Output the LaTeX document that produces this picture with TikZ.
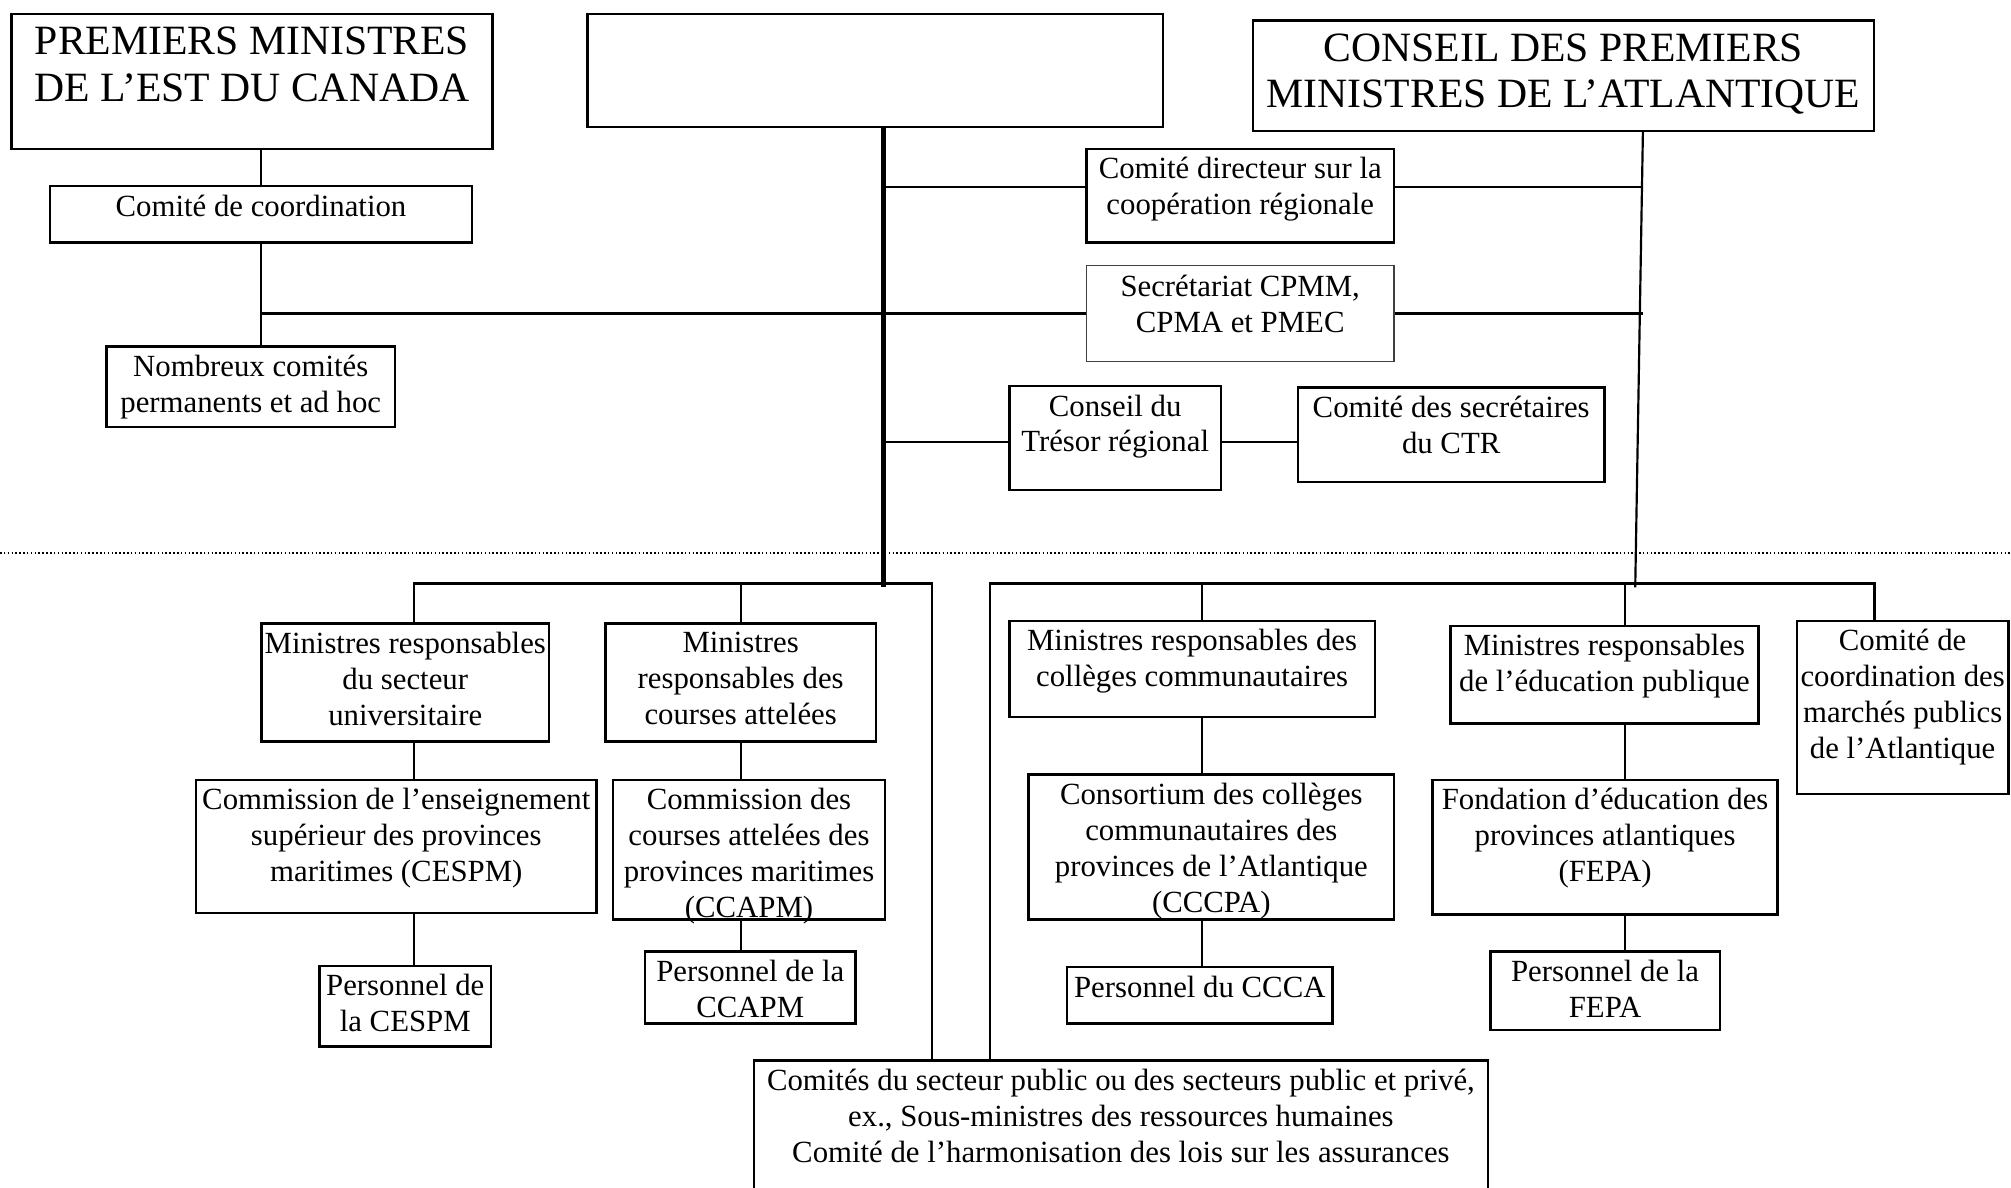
\documentclass[tikz,border=0pt]{standalone}
\usepackage{fontspec}
\setmainfont{Liberation Serif}
\usepackage{tikz}
\tikzstyle{box} = [rectangle, draw=black, line width=1.9pt, inner sep=0pt]
\tikzstyle{thinbox} = [box, draw=black!75, line width=1pt]
\tikzstyle{txt} = [anchor=north, align=center, inner sep=7.5pt, font=\fontsize{24}{28}\selectfont]
\tikzstyle{bigtxt} = [txt, inner sep=11pt, font=\fontsize{32.5}{36}\selectfont]
\tikzstyle{line} = [line width=1.7pt]
\tikzstyle{trunk} = [line width=3.8pt]

\begin{document}
\begin{tikzpicture}[x=1pt, y=-1pt]
\useasboundingbox (0,0) rectangle (1568,926);
\fill [white] (0,0) rectangle (1568,926);
\clip (0,0) rectangle (1568,926);

% Upper part
\node (pmest) [box, minimum width=375pt, minimum height=105pt, label={[bigtxt]north:{PREMIERS MINISTRES\\DE L’EST DU CANADA}}] at (196.5,63.5) {};
\node (blank) [box, minimum width=449pt, minimum height=88pt] at (682.5,55) {};
\node (cpma) [box, minimum width=484pt, minimum height=86pt, label={[bigtxt]north:{CONSEIL DES PREMIERS\\MINISTRES DE L’ATLANTIQUE}}] at (1219,59) {};
\node (coord) [box, minimum width=329pt, minimum height=44pt, label={[txt]north:{Comité de coordination}}] at (203.5,167) {};
\node (nomb) [box, minimum width=225pt, minimum height=63pt, label={[txt]north:{Nombreux comités\\permanents et ad hoc}}] at (195.5,301.5) {};
\node (cdir) [box, minimum width=240pt, minimum height=73pt, label={[txt]north:{Comité directeur sur la\\coopération régionale}}] at (967,152.5) {};
\node (secr) [thinbox, minimum width=240pt, minimum height=75pt, label={[txt]north:{Secrétariat CPMM,\\CPMA et PMEC}}] at (967,244.5) {};
\node (ctr) [box, minimum width=165pt, minimum height=81pt, label={[txt]north:{Conseil du\\Trésor régional}}] at (869.5,341.5) {};
\node (csec) [box, minimum width=239pt, minimum height=74pt, label={[txt]north:{Comité des secrétaires\\du CTR}}] at (1131.5,339) {};

% Lower part
\node (mrunv) [box, minimum width=224pt, minimum height=92pt, label={[txt]north:{Ministres responsables\\du secteur\\universitaire}}] at (316,532) {};
\node (mrcrs) [box, minimum width=211pt, minimum height=92pt, label={[txt]north:{Ministres\\responsables des\\courses attelées}}] at (577.5,532) {};
\node (cespm) [box, minimum width=312pt, minimum height=104pt, label={[txt]north:{Commission de l’enseignement\\supérieur des provinces\\maritimes (CESPM)}}] at (309,660) {};
\node (ccapm) [box, minimum width=212pt, minimum height=109pt, label={[txt]north:{Commission des\\courses attelées des\\provinces maritimes\\(CCAPM)}}] at (584,662.5) {};
\node (pcespm) [box, minimum width=134pt, minimum height=63pt, label={[txt]north:{Personnel de\\la CESPM}}] at (316,784.5) {};
\node (pccapm) [box, minimum width=164pt, minimum height=56pt, label={[txt]north:{Personnel de la\\CCAPM}}] at (585,770) {};
\node (cpub) [box, minimum width=572pt, minimum height=133pt, label={[txt]north:{Comités du secteur public ou des secteurs public et privé,\\ex., Sous-ministres des ressources humaines\\Comité de l’harmonisation des lois sur les assurances}}] at (874,893.5) {};
\node (mrcol) [box, minimum width=285pt, minimum height=75pt, label={[txt]north:{Ministres responsables des\\collèges communautaires}}] at (929.5,521.5) {};
\node (cccpa) [box, minimum width=285pt, minimum height=113pt, label={[txt]north:{Consortium des collèges\\communautaires des\\provinces de l’Atlantique\\(CCCPA)}}] at (944.5,660.5) {};
\node (pccca) [box, minimum width=207pt, minimum height=44pt, label={[txt]north:{Personnel du CCCA}}] at (935.5,776) {};
\node (mredu) [box, minimum width=240pt, minimum height=76pt, label={[txt]north:{Ministres responsables\\de l’éducation publique}}] at (1251,526) {};
\node (fepa) [box, minimum width=269pt, minimum height=105pt, label={[txt]north:{Fondation d’éducation des\\provinces atlantiques\\(FEPA)}}] at (1251.5,660.5) {};
\node (pfepa) [box, minimum width=179pt, minimum height=61pt, label={[txt]north:{Personnel de la\\FEPA}}] at (1251.5,772.5) {};
\node (cmp) [box, minimum width=165pt, minimum height=135pt, label={[txt]north:{Comité de\\coordination des\\marchés publics\\de l’Atlantique}}] at (1483.5,551.5) {};

% Separator
\draw [line width=1.2pt, dash pattern=on 1.2pt off 1.8pt] (0,431) -- (1568,431);

% Left side links
\draw [line] (coord.north) -- (coord.north |- pmest.south);
\draw [line] (coord.south) -- (coord.south |- nomb.north);
\draw [line] (coord.south |- secr.west) -- (secr.west);

% Trunk and links to the middle boxes
\coordinate (trunktop) at (689,99);
\coordinate (trunkbot) at (689,458);
\draw [trunk] (trunktop) -- (trunkbot);
\draw [line] ([yshift=7pt]cdir.west) -- ([yshift=7pt]cdir.west -| trunktop);
\draw [line] ([yshift=-3pt]ctr.west) -- ([yshift=-3pt]ctr.west -| trunktop);
\draw [line] ([yshift=-3pt]ctr.east) -- ([yshift=-3pt]ctr.east -| csec.west);

% Atlantic line
\coordinate (cpmatop) at (1281,102);
\coordinate (cpmabot) at (1275,458);
\draw [line] (cpmatop) -- (cpmabot);
\draw [line] ([yshift=7pt]cdir.east) -- ([yshift=7pt]cdir.east -| cpmatop);
\draw [line] (secr.east) -- (secr.east -| cpmatop);

% Buses
\coordinate (lbus) at (727,455);
\coordinate (rbus) at (772,455);
\draw [line] ([xshift=7pt]mrunv.north) |- (lbus) -- (lbus |- cpub.north);
\draw [line] (mrcrs.north) -- (mrcrs.north |- lbus);
\draw [line] (rbus |- cpub.north) -- (rbus) -| ([xshift=-22pt]cmp.north);
\draw [line] ([xshift=7.5pt]mrcol.north) -- ([xshift=7.5pt]mrcol.north |- rbus);
\draw [line] ([xshift=16pt]mredu.north) -- ([xshift=16pt]mredu.north |- rbus);

% Links below the ministers
\draw [line] ([xshift=7pt]mrunv.south) -- ([xshift=7pt]mrunv.south |- cespm.north);
\draw [line] ([xshift=7pt]mrunv.south |- cespm.south) -- ([xshift=7pt]pcespm.north);
\draw [line] (mrcrs.south) -- (mrcrs.south |- ccapm.north);
\draw [line] (mrcrs.south |- ccapm.south) -- (mrcrs.south |- pccapm.north);
\draw [line] ([xshift=7.5pt]mrcol.south) -- ([xshift=7.5pt]mrcol.south |- cccpa.north);
\draw [line] ([xshift=7.5pt]mrcol.south |- cccpa.south) -- ([xshift=7.5pt]mrcol.south |- pccca.north);
\draw [line] ([xshift=16pt]mredu.south) -- ([xshift=16pt]mredu.south |- fepa.north);
\draw [line] ([xshift=16pt]mredu.south |- fepa.south) -- ([xshift=16pt]mredu.south |- pfepa.north);

\end{tikzpicture}
\end{document}
